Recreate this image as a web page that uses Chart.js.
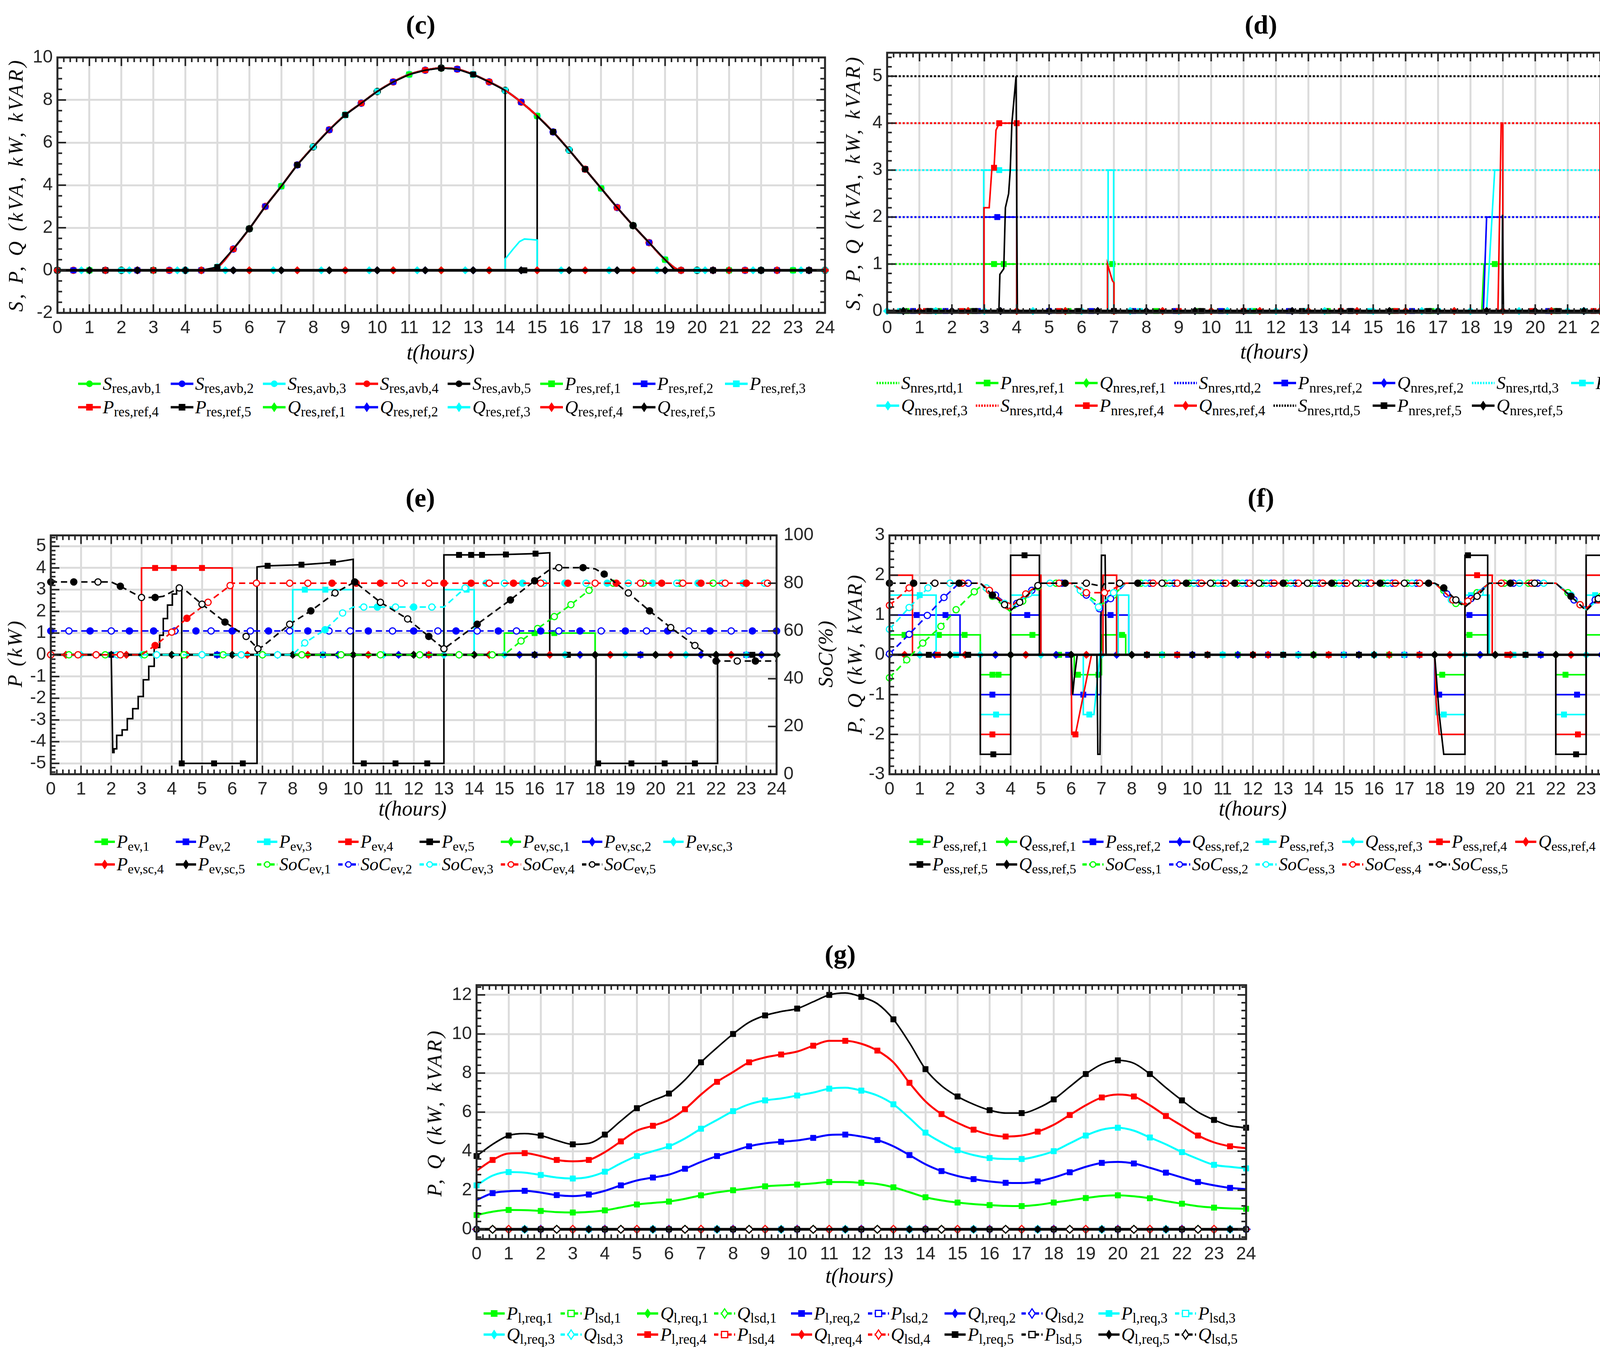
<!DOCTYPE html>
<html>
<head>
<meta charset="utf-8">
<script src="https://cdn.jsdelivr.net/npm/chart.js@4.4.1/dist/chart.umd.min.js"></script>
<style>
html,body{margin:0;padding:0;background:#ffffff;}
body{width:4303px;height:3456px;position:relative;overflow:hidden;}
canvas{position:absolute;}
.t{position:absolute;white-space:nowrap;color:#000;line-height:1;}
.ttl{font-family:'Liberation Serif',serif;font-weight:bold;font-size:68px;transform:translate(-50%,-50%);}
.xl{font-family:'Liberation Serif',serif;font-style:italic;font-size:54px;transform:translate(-50%,-50%);}
.yl{font-family:'Liberation Serif',serif;font-style:italic;font-size:52px;transform:translate(-50%,-50%) rotate(-90deg);}
.li{position:absolute;display:flex;align-items:center;white-space:nowrap;transform:translateY(-50%);font-family:'Liberation Serif',serif;line-height:1;color:#000;}
.li svg{flex:none;margin-right:4px;}
.li i{font-style:italic;}
.li sub{font-style:normal;vertical-align:baseline;position:relative;top:0.24em;}
</style>
</head>
<body>
<script>
// ================= DATA =================
const hours05 = [0,0.5,1,1.5,2,2.5,3,3.5,4,4.5,5,5.5,6,6.5,7,7.5,8,8.5,9,9.5,10,10.5,11,11.5,12,12.5,13,13.5,14,14.5,15,15.5,16,16.5,17,17.5,18,18.5,19,19.5,20,20.5,21,21.5,22,22.5,23,23.5,24];
const zeroLevel = [0,0,0,0,0,0,0,0,0,0,0,0,0,0,0,0,0,0,0,0,0,0,0,0,0,0,0,0,0,0,0,0,0,0,0,0,0,0,0,0,0,0,0,0,0,0,0,0,0];
const xTickValues = [0,1,2,3,4,5,6,7,8,9,10,11,12,13,14,15,16,17,18,19,20,21,22,23,24];

// ---- (c) RES ----
const yTicksC = [-2,0,2,4,6,8,10];
const solarAvb = [0,0,0,0,0,0,0,0,0,0, 0.15,1.0,1.95,3.0,3.95,4.95,5.8,6.6,7.3,7.85, 8.4,8.85,9.2,9.4,9.5,9.45,9.2,8.85,8.45,7.9, 7.25,6.5,5.65,4.75,3.85,2.95,2.1,1.3,0.5, 0, 0,0,0,0,0,0,0,0,0];
const pResRef5 = [[0,0,1],[1.5,0,1],[3,0,1],[4.5,0],[5,0.15,1],[5.5,1.0],[6,1.95,1],[6.5,3.0],[7,3.95],[7.5,4.95,1],[8,5.8],[8.5,6.6],[9,7.3,1],[9.5,7.85],[10,8.4],[10.5,8.85],[11,9.2],[11.5,9.4],[12,9.5,1],[12.5,9.45],[13,9.2,1],[13.5,8.85],[14,8.45],[14,0],[14.6,0,1],[15,0],[15,7.25],[15.5,6.5,1],[16,5.65],[16.5,4.75,1],[17,3.85],[17.5,2.95],[18,2.1,1],[18.5,1.3],[19,0.5],[19.3,0],[20.5,0,1],[22,0,1],[23.5,0,1],[24,0]];
const qResRef3 = [[0,0],[0.75,0,1],[2.25,0,1],[3.75,0,1],[5.25,0,1],[6.75,0,1],[8.25,0,1],[9.75,0,1],[11.25,0,1],[12.75,0,1],[14.0,0],[14.0,0.53],[14.25,1.0],[14.45,1.35],[14.6,1.47],[14.8,1.45],[15.0,1.42],[15.0,0],[15.75,0,1],[17.25,0,1],[18.75,0,1],[20.25,0,1],[21.75,0,1],[23.25,0,1],[24,0]];

// ---- (d) non-RES ----
const yTicksD = [0,1,2,3,4,5];
const sNresRtd = [1,2,3,4,5];
const pNresRef1 = [[0,0],[0.6,0,1],[1.6,0,1],[2.6,0,1],[2.98,0],[2.98,1],[3.3,1,1],[3.6,1,1],[4.0,1],[4.0,0],[5.6,0,1],[6.8,0],[6.8,1],[6.95,1,1],[7.0,1],[7.0,0],[8.3,0,1],[9.6,0,1],[11.3,0,1],[13.6,0,1],[15.6,0,1],[16.8,0,1],[18.35,0],[18.42,1],[18.75,1,1],[19.0,1],[19.0,0],[20.6,0,1],[22.0,0],[22.0,1],[22.3,1,1],[22.8,1,1],[23.0,1],[23.0,0],[24,0]];
const pNresRef2 = [[0,0],[0.8,0,1],[1.8,0,1],[2.8,0,1],[2.98,0],[2.98,2],[3.4,2,1],[4.0,2],[4.0,0],[5.0,0,1],[6.3,0,1],[7.6,0,1],[8.9,0,1],[10.3,0,1],[12.4,0,1],[14.3,0,1],[16.2,0,1],[18.4,0],[18.5,2],[19.0,2],[19.0,0],[20.4,0,1],[22.0,0],[22.0,2],[22.14,2,1],[22.76,2,1],[23.0,2],[23.0,0],[24,0]];
const pNresRef3 = [[0,0],[0.4,0,1],[1.4,0,1],[2.98,0],[2.98,3],[3.46,3,1],[4.0,3],[4.0,0],[6.82,0],[6.82,3],[6.99,3],[6.99,0],[7.8,0,1],[11.2,0,1],[12.9,0,1],[14.9,0,1],[17.0,0,1],[18.5,0],[18.75,3],[19.0,3],[19.0,0],[21.5,0,1],[22.0,0],[22.0,3],[22.25,3,1],[23.0,3,1],[23.0,0],[24,0]];
const pNresRef4 = [[0,0],[1.2,0,1],[2.3,0,1],[2.99,0],[2.99,2.2],[3.15,2.2],[3.23,3.0],[3.3,3.05,1],[3.36,3.85],[3.46,4.0,1],[4.0,4.0,1],[4.0,0],[5.3,0,1],[6.8,0],[6.8,1.0],[6.95,0.65],[7.0,0.6],[7.0,0],[9.0,0,1],[11.0,0,1],[14.0,0,1],[15.7,0,1],[18.85,0],[18.95,4],[19.0,4],[19.0,0],[19.9,0,1],[21.8,0,1],[22.0,0],[22.0,4],[22.75,4,1],[22.9,3.7],[23.0,3.25],[23.0,0],[24,0]];
const pNresRef5 = [[0,0],[1.3,0,1],[2.7,0,1],[3.45,0],[3.48,0.78],[3.6,0.9],[3.65,2.2],[3.75,2.5],[3.8,3.0],[3.85,4.0],[3.98,5.0],[4.02,0],[5.9,0,1],[7.0,0,1],[9.7,0,1],[12.8,0,1],[14.3,0,1],[16.7,0,1],[18.98,0],[18.99,2.05],[19.02,0],[20.7,0,1],[22.02,0],[22.02,5],[22.1,5,1],[22.3,5],[22.38,3.8],[22.5,2.4],[22.85,0],[23.5,0,1],[24,0]];

// ---- (e) EV ----
const yTicksE = [-5,-4,-3,-2,-1,0,1,2,3,4,5];
const yTicksSoC = [0,20,40,60,80,100];
const pEv1 = [[0,0],[15.0,0],[15.0,1.0],[16.0,1.0,1],[16.65,1.0,1],[18.0,1.0],[18.0,0],[24,0]];
const pEv2 = [[0,0],[2.0,0,1],[5.5,0,1],[9.0,0,1],[12.5,0,1],[16.0,0,1],[19.5,0,1],[23.0,0,1],[24,0]];
const pEv3 = [[0,0],[8.0,0],[8.0,3.0],[8.4,3.0,1],[9.08,3.0,1],[10.0,3.0],[10.0,0],[13.0,0],[13.0,3.0],[13.75,3.0,1],[14.0,3.0],[14.0,0],[24,0]];
const pEv4 = [[0,0],[3.0,0],[3.0,4.0],[3.45,4.0,1],[4.07,4.0,1],[5.0,4.0,1],[6.0,4.0],[6.0,0],[24,0]];
const pEv5 = [[0,0],[2.0,0],[2.05,-4.5],[2.09,-4.5],[2.09,-4.33],[2.18,-4.33],[2.18,-3.71],[2.36,-3.71],[2.36,-3.46],[2.53,-3.46],[2.53,-2.94],[2.71,-2.94],[2.71,-2.48],[2.89,-2.48],[2.89,-1.92],[3.06,-1.92],[3.06,-1.15],[3.24,-1.15],[3.24,-0.53],[3.42,-0.53],[3.42,0.34],[3.6,0.34],[3.6,0.9],[3.72,0.9],[3.72,1.67],[3.86,1.67],[3.86,2.29],[4.02,2.29],[4.02,2.8],[4.16,2.8],[4.16,3.1],[4.33,3.1],[4.33,-5.0,1],[5.4,-5,1],[6.35,-5,1],[6.82,-5],[6.82,4.05],[7.17,4.1,1],[8.29,4.15,1],[9.33,4.25,1],[10.0,4.4],[10.0,-5],[10.35,-5,1],[11.4,-5,1],[12.45,-5,1],[13.0,-5],[13.0,4.6],[13.5,4.6,1],[13.9,4.6,1],[14.26,4.6,1],[15.05,4.62,1],[16.03,4.66,1],[16.5,4.7],[16.5,0],[17.1,0,1],[18.03,0],[18.03,-5],[18.1,-5,1],[19.2,-5,1],[20.3,-5,1],[21.3,-5,1],[22.05,-5],[22.05,0],[23.2,0,1],[24,0]];
const socEv1 = [[0,50],[0.6,50,1],[1.8,50,1],[3.1,50,1],[4.4,50,1],[5.7,50,1],[7.0,50,1],[8.3,50,1],[9.6,50,1],[10.9,50,1],[12.2,50,1],[13.5,50,1],[14.6,50,1],[15.0,50],[15.55,55.8,1],[16.1,61,1],[16.65,66,1],[17.2,71,1],[17.8,77,1],[18.0,80],[18.6,80,1],[19.6,80,1],[20.8,80,1],[21.9,80,1],[23.0,80,1],[24,80]];
const socEv2 = [[0,60,2],[0.6,60,1],[1.3,60,2],[2.0,60,1],[2.6,60,2],[3.4,60,2],[4.1,60,1],[4.8,60,2],[5.3,60,1],[6.0,60,2],[6.6,60,1],[7.2,60,2],[7.9,60,1],[8.5,60,2],[9.2,60,1],[9.9,60,1],[10.5,60,2],[11.3,60,1],[12.0,60,2],[12.8,60,1],[13.4,60,2],[14.1,60,1],[14.8,60,2],[15.4,60,1],[16.2,60,2],[16.8,60,1],[17.5,60,2],[18.2,60,1],[19.0,60,2],[19.7,60,1],[20.4,60,2],[21.1,60,1],[21.8,60,2],[22.5,60,1],[23.2,60,2],[24,60,2]];
const socEv3 = [[0,50],[0.9,50,1],[2.2,50,1],[3.5,50,1],[5.0,50,1],[6.3,50,1],[7.5,50,1],[8.0,50],[8.4,55,1],[9.07,60.5,2],[9.65,67.5,1],[10.0,70],[10.35,70,1],[10.8,70,2],[11.4,70,1],[12.0,70,2],[12.6,70,1],[13.0,70],[13.7,78,1],[14.0,80],[14.4,80,2],[15.0,80,1],[15.6,80,2],[16.3,80,1],[17.0,80,2],[17.7,80,1],[18.4,80,2],[19.1,80,1],[19.9,80,2],[20.7,80,1],[21.4,80,2],[22.2,80,1],[22.9,80,2],[23.6,80,1],[24,80]];
const socEv4 = [[0,50,1],[0.9,50,1],[1.5,50,1],[2.3,50,1],[3.0,50],[3.45,53.9,2],[4.0,59.5,1],[4.5,65.3,2],[5.2,72,1],[5.93,79,1],[6.0,80],[6.8,80,1],[7.9,80,1],[8.5,80,1],[9.3,80,2],[10.1,80,2],[10.9,80,2],[11.6,80,1],[12.5,80,1],[13.0,80,2],[13.9,80,2],[14.5,80,1],[15.3,80,2],[16.2,80,1],[17.1,80,2],[18.0,80,1],[18.7,80,2],[19.5,80,1],[20.2,80,2],[20.9,80,1],[21.5,80,2],[22.3,80,1],[23.0,80,2],[23.7,80,1],[24,80]];
const socEv5 = [[0,80.5,2],[0.76,80.5,2],[1.56,80.5,1],[2.0,80.5],[2.3,78.7,2],[3.0,74,1],[3.45,74,2],[3.72,74.5],[4.25,78,1],[4.5,76.5],[5.0,71.2,1],[5.76,63.7,2],[6.46,57.7,1],[6.85,52.5,1],[7.0,53.5],[7.9,62.8,1],[8.6,68.4,2],[9.4,75.9,1],[10.05,80.5,2],[10.9,72,1],[11.8,65,1],[12.5,57.7,2],[13.0,52.5,1],[14.1,62.8,2],[15.2,73,2],[16.0,81,2],[16.5,85.7],[16.8,86.5,1],[17.6,86.5,2],[18.0,86],[18.3,83.8,2],[19.1,75.9,1],[19.8,68.4,2],[20.5,61.4,1],[21.3,53.9,1],[22.0,47.4,2],[22.7,47.4,1],[23.3,47.4,2],[24,47.4]];

// ---- (f) ESS ----
const yTicksF = [-3,-2,-1,0,1,2,3];
const pEssRef1 = [[0,0.5],[0.5,0.5,1],[1.63,0.5,1],[2.48,0.5,1],[3.0,0.5],[3.0,-0.5],[3.4,-0.5,1],[3.6,-0.5,1],[4.0,-0.5],[4.0,0.5],[4.72,0.5,1],[5.0,0.5],[5.0,0],[5.6,0,1],[6.1,0],[6.1,-0.5],[6.22,-0.5,1],[6.9,-0.5,1],[7.0,-0.5],[7.0,0.5],[7.68,0.5,1],[7.8,0.5],[7.8,0],[9.0,0,1],[11.5,0,1],[14.0,0,1],[16.5,0,1],[18.0,0],[18.0,-0.5],[18.25,-0.5,1],[19.0,-0.5],[19.0,0.5],[19.15,0.5,1],[19.8,0.5],[19.8,0],[21.0,0,1],[22.0,0],[22.0,-0.5],[22.32,-0.5,1],[23.0,-0.5],[23.0,0.5],[23.82,0.5,1],[24,0.5]];
const pEssRef2 = [[0,1],[0.9,1,1],[1.85,1,1],[2.33,1],[2.33,0],[3.0,0],[3.0,-1],[3.4,-1,1],[4.0,-1],[4.0,1],[4.55,1,1],[5.0,1],[5.0,0],[5.9,0,1],[6.0,0],[6.0,-1],[6.4,-1,1],[6.97,-1],[6.97,1],[7.3,1,1],[7.9,1],[7.9,0],[10.0,0,1],[12.5,0,1],[15.0,0,1],[17.0,0,1],[18.0,0],[18.0,-1],[18.15,-1,1],[19.0,-1],[19.0,1],[19.15,1,1],[19.8,1],[19.8,0],[21.5,0,1],[22.0,0],[22.0,-1],[22.7,-1,1],[23.0,-1],[23.0,1],[23.75,1,1],[24,1]];
const pEssRef3 = [[0,1.5],[1.0,1.5,1],[1.54,1.5],[1.54,0],[2.2,0,1],[3.0,0],[3.0,-1.5],[3.52,-1.5,1],[4.0,-1.5],[4.0,1.5],[4.5,1.5,1],[5.0,1.5],[5.0,0],[6.4,0],[6.4,-1.5],[6.6,-1.5,1],[6.75,-1.5],[6.95,0],[7.55,0],[7.55,1.5],[7.9,1.5],[7.9,0],[8.5,0,1],[11.0,0,1],[13.5,0,1],[16.0,0,1],[18.0,0],[18.05,-1.5],[18.3,-1.5,1],[19.0,-1.5],[19.0,1.5],[19.2,1.5,1],[19.8,1.5],[19.8,0],[20.6,0,1],[22.0,0],[22.0,-1.5],[22.27,-1.5,1],[23.0,-1.5],[23.0,1.5],[23.3,1.5,1],[24,1.5]];
const pEssRef4 = [[0,2],[0.76,2],[0.76,0],[1.6,0,1],[3.0,0],[3.0,-2],[3.4,-2,1],[4.0,-2],[4.0,2],[5.0,2],[5.0,0],[6.0,0],[6.02,-2],[6.14,-2,1],[6.67,0],[7.05,0],[7.05,2],[7.5,2],[7.5,0],[9.5,0,1],[12.0,0,1],[14.5,0,1],[17.5,0,1],[18.0,0],[18.05,-1.2],[18.15,-2],[19.0,-2],[19.0,2],[19.4,2,1],[19.9,2],[19.9,0],[20.4,0,1],[22.0,0],[22.0,-2],[22.73,-2,1],[23.0,-2],[23.0,2],[23.77,2,1],[24,2]];
const pEssRef5 = [[0,0],[1.3,0,1],[2.6,0,1],[3.0,0],[3.0,-2.5],[3.43,-2.5,1],[4.0,-2.5],[4.0,2.5],[4.46,2.5,1],[4.95,2.5],[4.95,0],[6.0,0],[6.05,-1.0],[6.1,-0.6],[6.2,0],[6.85,0],[6.88,-2.5],[6.95,-2.5],[7.0,2.5],[7.12,2.5],[7.15,0],[8.5,0,1],[10.5,0,1],[13.0,0,1],[15.5,0,1],[18.0,0],[18.15,-1.5],[18.3,-2.5],[19.0,-2.5],[19.0,2.5],[19.1,2.5,1],[19.75,2.5],[19.75,0],[21.0,0,1],[22.0,0],[22.0,-2.5],[22.67,-2.5,1],[23.0,-2.5],[23.0,2.5],[23.82,2.5,1],[24,2.5]];
const socEss1 = [[0,40.4,1],[0.57,47.9,1],[1.1,54.9,1],[1.7,61.9,1],[2.2,68.9,1],[2.8,76.4,1],[3.0,78.5],[3.4,74.5,1],[4.0,68],[4.4,72.5,1],[4.9,78.5,1],[5.0,80],[5.5,80,1],[6.0,80],[6.4,76,1],[7.0,71],[7.4,75,1],[7.8,80],[8.3,80,1],[9.1,80,1],[9.9,80,1],[10.7,80,1],[11.5,80,1],[12.3,80,1],[13.1,80,1],[13.9,80,1],[14.7,80,1],[15.5,80,1],[16.3,80,1],[17.1,80,1],[18.0,80],[18.3,77,1],[18.7,71.5,1],[19.0,71],[19.4,76,1],[19.8,80],[20.3,80,1],[21.1,80,1],[22.0,80],[22.4,76,1],[22.8,71,1],[23.0,69],[23.5,74.5,1],[24,80]];
const socEss2 = [[0,50.4,1],[0.65,58.6,1],[1.25,66.5,1],[1.8,74,1],[2.3,80],[2.6,80,1],[3.0,80],[3.5,75,1],[4.0,70],[4.2,71.5,1],[4.7,77,1],[5.0,80],[5.7,80,1],[6.0,80],[6.5,75,1],[6.93,69.3,1],[7.3,73.5,1],[7.8,80],[8.6,80,1],[9.4,80,1],[10.2,80,1],[11.0,80,1],[11.8,80,1],[12.6,80,1],[13.4,80,1],[14.2,80,1],[15.0,80,1],[15.8,80,1],[16.6,80,1],[17.4,80,1],[18.0,80],[18.4,75.5,1],[19.0,71],[19.2,73.5,1],[19.8,80],[20.6,80,1],[21.4,80,1],[22.0,80],[22.6,73,1],[23.0,69.5],[23.3,73,1],[23.8,78.5,1],[24,80]];
const socEss3 = [[0,60.7,1],[0.65,69.8,1],[1.27,78,1],[1.5,80],[2.0,80,1],[3.0,80],[3.2,78,1],[3.8,71.5,1],[4.0,69.5],[4.6,75.5,1],[5.0,80],[5.3,80,1],[6.0,80],[6.3,77,1],[6.9,70,1],[7.4,76,1],[7.8,80],[8.45,80,1],[9.25,80,1],[10.05,80,1],[10.85,80,1],[11.65,80,1],[12.45,80,1],[13.25,80,1],[14.05,80,1],[14.85,80,1],[15.65,80,1],[16.45,80,1],[17.25,80,1],[18.0,80],[18.55,73,1],[19.0,71.5],[19.5,76,1],[19.8,80],[20.8,80,1],[21.6,80,1],[22.0,80],[22.5,75,1],[23.0,69],[23.6,75,1],[24,80]];
const socEss4 = [[0,70.7,1],[0.65,78,1],[0.75,80],[1.5,80,1],[2.4,80,1],[3.0,80],[3.3,77,1],[3.9,70.5,1],[4.0,70],[4.5,75.5,1],[5.0,80],[5.6,80,1],[6.0,80],[6.5,76,1],[7.1,76,1],[7.8,80],[8.7,80,1],[9.5,80,1],[10.3,80,1],[11.1,80,1],[11.9,80,1],[12.7,80,1],[13.5,80,1],[14.3,80,1],[15.1,80,1],[15.9,80,1],[16.7,80,1],[17.5,80,1],[18.0,80],[18.6,73,1],[19.0,71],[19.1,72.5,1],[19.8,80],[20.2,80,1],[21.2,80,1],[22.0,80],[22.8,71,1],[23.0,69.5],[23.4,73,1],[24,80]];
const socEss5 = [[0,80,2],[0.8,80,2],[1.5,80,1],[2.3,80,2],[3.0,80],[3.4,75,2],[3.8,71,1],[4.0,68.5],[4.3,72,1],[4.9,79,1],[5.0,80],[5.8,80,2],[6.0,80],[6.5,80,1],[6.9,79],[7.0,78],[7.1,80],[7.6,80,1],[8.2,80,2],[9.0,80,1],[9.8,80,2],[10.6,80,1],[11.4,80,2],[12.2,80,1],[13.0,80,2],[13.8,80,1],[14.6,80,2],[15.4,80,1],[16.2,80,2],[17.0,80,1],[17.8,80,2],[18.0,80],[18.3,78,2],[18.7,73,1],[19.0,70],[19.4,74.5,1],[19.8,80],[20.5,80,2],[21.3,80,1],[22.0,80],[22.5,74.5,2],[23.0,68.5],[23.4,73.5,1],[24,80]];

// ---- (g) loads ----
const yTicksG = [0,2,4,6,8,10,12];
const pLreq1 = [0.73,0.9,0.99,0.98,0.94,0.88,0.86,0.89,0.97,1.12, 1.27,1.35,1.42,1.56,1.74,1.89,2.0,2.1,2.2,2.25, 2.29,2.35,2.42,2.42,2.38,2.32,2.15,1.9,1.64,1.48, 1.37,1.29,1.24,1.2,1.19,1.25,1.37,1.48,1.6,1.7, 1.74,1.69,1.59,1.44,1.31,1.18,1.11,1.07,1.05];
const pLreq2 = [1.5,1.85,1.95,1.97,1.88,1.75,1.7,1.78,1.97,2.25, 2.5,2.65,2.8,3.1,3.45,3.75,4.0,4.25,4.4,4.48, 4.55,4.68,4.83,4.85,4.75,4.57,4.25,3.8,3.33,2.98, 2.73,2.57,2.45,2.38,2.37,2.45,2.65,2.92,3.2,3.4, 3.45,3.37,3.15,2.9,2.65,2.42,2.25,2.12,2.06];
const pLreq3 = [2.25,2.75,2.93,2.9,2.78,2.65,2.6,2.68,2.95,3.38, 3.75,4.0,4.25,4.65,5.15,5.6,6.05,6.4,6.6,6.7, 6.85,7.0,7.2,7.25,7.1,6.85,6.4,5.7,4.95,4.45, 4.05,3.8,3.65,3.6,3.6,3.75,4.0,4.4,4.8,5.1, 5.2,5.05,4.7,4.35,3.95,3.6,3.3,3.2,3.12];
const pLreq4 = [3.0,3.55,3.88,3.9,3.75,3.55,3.48,3.55,3.95,4.5, 5.05,5.3,5.6,6.15,6.9,7.55,8.05,8.55,8.8,8.95, 9.1,9.4,9.65,9.65,9.5,9.15,8.55,7.5,6.55,5.9, 5.45,5.1,4.85,4.75,4.8,5.0,5.35,5.85,6.35,6.75, 6.9,6.8,6.35,5.8,5.3,4.8,4.45,4.25,4.15];
const pLreq5 = [3.75,4.35,4.8,4.9,4.8,4.55,4.35,4.4,4.85,5.55, 6.2,6.6,6.95,7.65,8.55,9.3,10.0,10.6,10.95,11.15, 11.3,11.65,12.0,12.1,11.9,11.55,10.75,9.55,8.2,7.35, 6.8,6.4,6.1,5.95,5.95,6.2,6.65,7.3,7.95,8.45, 8.65,8.5,7.95,7.25,6.6,6.0,5.6,5.3,5.2];

// ================= STYLE / BUILD =================
const COL = ['#00ff00','#0000ff','#00ffff','#ff0000','#000000'];
const GRID = '#dcdcdc';
const DASH = {solid: [], dash: [16, 10], dot: [5, 5]};
function grid(vals) { return hours05.map((x, i) => [x, vals[i]]); }
function spec(main, sub, color, data, o) {
  return Object.assign({main, sub, color, data, marker: 'rect', r: 10, width: 4, dash: 'solid', open: false, axis: 'y', every: 0, off: 0, smooth: false}, o || {});
}
function toDataset(s, idx, n) {
  const data = s.data.map(p => ({x: p[0], y: p[1], m: p[2] || 0}));
  let radius;
  if (s.marker === 'none') radius = 0;
  else if (s.every) radius = ctx => (ctx.dataIndex !== undefined && (ctx.dataIndex + s.off) % s.every === 0) ? s.r : 0;
  else radius = ctx => (ctx.raw && ctx.raw.m) ? s.r : 0;
  const bg = s.open ? (ctx => (ctx.raw && ctx.raw.m === 2) ? s.color : '#ffffff') : s.color;
  return {
    label: s.main + ' ' + s.sub, data, yAxisID: s.axis,
    borderColor: s.color, backgroundColor: s.color, borderWidth: s.width,
    borderDash: DASH[s.dash], borderCapStyle: 'butt', borderJoinStyle: 'miter',
    pointStyle: s.marker === 'none' ? 'circle' : s.marker,
    pointRadius: radius, pointHoverRadius: 0, pointHitRadius: 0,
    pointBorderColor: s.color, pointBackgroundColor: bg,
    pointBorderWidth: s.open ? 3 : 1,
    cubicInterpolationMode: s.smooth ? 'monotone' : 'default', tension: 0,
    fill: false, order: n - idx, clip: 16, spanGaps: true
  };
}

const frameTicks = {
  id: 'frameTicks',
  afterDatasetsDraw(chart, args, o) {
    const ctx = chart.ctx, a = chart.chartArea;
    const sx = chart.scales.x, sy = chart.scales.y, s2 = chart.scales.y2;
    ctx.save();
    ctx.strokeStyle = '#262626';
    ctx.lineWidth = 4;
    ctx.beginPath();
    const seg = (x1, y1, x2, y2) => { ctx.moveTo(x1, y1); ctx.lineTo(x2, y2); };
    for (let k = Math.ceil(sx.min / o.xMinor - 1e-6); k * o.xMinor <= sx.max + 1e-6; k++) {
      const v = k * o.xMinor, p = sx.getPixelForValue(v);
      const L = Math.abs(v - Math.round(v)) < 1e-6 ? 22 : 12;
      seg(p, a.top, p, a.top + L); seg(p, a.bottom, p, a.bottom - L);
    }
    for (let k = Math.ceil(sy.min / o.yMinor - 1e-6); k * o.yMinor <= sy.max + 1e-6; k++) {
      const v = k * o.yMinor, p = sy.getPixelForValue(v);
      const L = o.yMajor.some(t => Math.abs(t - v) < 1e-6) ? 22 : 12;
      seg(a.left, p, a.left + L, p);
      if (!s2) seg(a.right, p, a.right - L, p);
    }
    if (s2) for (const v of o.y2Major) { const p = s2.getPixelForValue(v); seg(a.right, p, a.right - 22, p); }
    ctx.stroke();
    ctx.lineWidth = 5;
    ctx.strokeRect(a.left, a.top, a.right - a.left, a.bottom - a.top);
    ctx.restore();
  }
};

const TICKFONT = {family: "'Liberation Sans', Arial, sans-serif", size: 46};
function makePanel(p) {
  const padL = 120, padT = 40, padR = p.y2 ? 150 : 45, padB = 95;
  const W = p.rect.r - p.rect.l, H = p.rect.b - p.rect.t;
  const cv = document.createElement('canvas');
  cv.width = W + padL + padR; cv.height = H + padT + padB;
  cv.style.left = (p.rect.l - padL) + 'px'; cv.style.top = (p.rect.t - padT) + 'px';
  cv.style.width = cv.width + 'px'; cv.style.height = cv.height + 'px';
  document.body.appendChild(cv);
  const n = p.series.length;
  const datasets = p.series.map((s, i) => toDataset(s, i, n));
  const scales = {
    x: {type: 'linear', min: 0, max: 24,
      afterBuildTicks: s => { s.ticks = xTickValues.map(v => ({value: v})); },
      afterFit: s => { s.height = padB; },
      ticks: {font: TICKFONT, color: '#262626', padding: 12, autoSkip: false, maxRotation: 0, minRotation: 0, callback: v => String(v)},
      grid: {color: GRID, lineWidth: 5, drawTicks: false}, border: {display: false}},
    y: {type: 'linear', position: 'left', min: p.yMin, max: p.yMax,
      afterBuildTicks: s => { s.ticks = p.yTicks.map(v => ({value: v})); },
      afterFit: s => { s.width = padL; },
      ticks: {font: TICKFONT, color: '#262626', padding: 12, autoSkip: false, callback: v => String(v)},
      grid: {color: GRID, lineWidth: 5, drawTicks: false}, border: {display: false}}
  };
  if (p.y2) {
    scales.y2 = {type: 'linear', position: 'right', min: 0, max: 100,
      afterBuildTicks: s => { s.ticks = yTicksSoC.map(v => ({value: v})); },
      afterFit: s => { s.width = padR; },
      ticks: {font: TICKFONT, color: '#262626', padding: 18, autoSkip: false, callback: v => String(v)},
      grid: {display: false, drawTicks: false}, border: {display: false}};
  }
  new Chart(cv, {
    type: 'line',
    data: {datasets},
    options: {
      responsive: false, animation: false, devicePixelRatio: 1, events: [],
      layout: {padding: {left: 0, top: padT, right: p.y2 ? 0 : padR, bottom: 0}, autoPadding: false},
      plugins: {legend: {display: false}, tooltip: {enabled: false},
        frameTicks: {xMinor: 0.2, yMinor: p.yMinor, yMajor: p.yTicks, y2Major: [20, 40, 60, 80]}},
      scales
    },
    plugins: [frameTicks]
  });
}

// ---- series lists ----
const seriesC = [];
for (let i = 0; i < 5; i++) seriesC.push(spec('S', 'res,avb,' + (i + 1), COL[i], grid(solarAvb), {marker: 'circle', r: 9, every: 4, off: i % 4, smooth: true, width: i === 4 ? 4 : 5}));
for (let i = 0; i < 5; i++) {
  if (i < 4) seriesC.push(spec('P', 'res,ref,' + (i + 1), COL[i], grid(solarAvb), {every: 4, off: (i + 2) % 4, smooth: true, width: 5}));
  else seriesC.push(spec('P', 'res,ref,5', COL[4], pResRef5, {width: 4}));
}
for (let i = 0; i < 5; i++) {
  if (i === 2) seriesC.push(spec('Q', 'res,ref,3', COL[2], qResRef3, {marker: 'rectRot'}));
  else seriesC.push(spec('Q', 'res,ref,' + (i + 1), COL[i], grid(zeroLevel), {marker: 'rectRot', every: 3, off: i % 3, width: i === 4 ? 7 : 5}));
}

const pNres = [pNresRef1, pNresRef2, pNresRef3, pNresRef4, pNresRef5];
const seriesD = [];
for (let i = 0; i < 5; i++) {
  seriesD.push(spec('S', 'nres,rtd,' + (i + 1), COL[i], [[0, sNresRtd[i]], [24, sNresRtd[i]]], {marker: 'none', dash: 'dot', width: 5}));
  seriesD.push(spec('P', 'nres,ref,' + (i + 1), COL[i], pNres[i], {width: 4}));
  seriesD.push(spec('Q', 'nres,ref,' + (i + 1), COL[i], grid(zeroLevel), {marker: 'rectRot', every: 3, off: (i + 1) % 3, width: i === 4 ? 7 : 5}));
}

const pEv = [pEv1, pEv2, pEv3, pEv4, pEv5];
const socEv = [socEv1, socEv2, socEv3, socEv4, socEv5];
const seriesE = [];
for (let i = 0; i < 5; i++) seriesE.push(spec('P', 'ev,' + (i + 1), COL[i], pEv[i], {width: 4}));
for (let i = 0; i < 5; i++) seriesE.push(spec('P', 'ev,sc,' + (i + 1), COL[i], grid(zeroLevel), {marker: 'rectRot', every: 4, off: i % 4, width: i === 4 ? 6 : 5}));
for (let i = 0; i < 5; i++) seriesE.push(spec('SoC', 'ev,' + (i + 1), COL[i], socEv[i], {marker: 'circle', open: true, r: 8, dash: 'dash', width: 4, axis: 'y2'}));

const pEss = [pEssRef1, pEssRef2, pEssRef3, pEssRef4, pEssRef5];
const socEss = [socEss1, socEss2, socEss3, socEss4, socEss5];
const seriesF = [];
for (let i = 0; i < 5; i++) {
  seriesF.push(spec('P', 'ess,ref,' + (i + 1), COL[i], pEss[i], {width: 4}));
  seriesF.push(spec('Q', 'ess,ref,' + (i + 1), COL[i], grid(zeroLevel), {marker: 'rectRot', every: 4, off: i % 4, width: i === 4 ? 6 : 5}));
}
for (let i = 0; i < 5; i++) seriesF.push(spec('SoC', 'ess,' + (i + 1), COL[i], socEss[i], {marker: 'circle', open: true, r: 8, dash: 'dash', width: 4, axis: 'y2'}));

const pLreq = [pLreq1, pLreq2, pLreq3, pLreq4, pLreq5];
const seriesG = [];
for (let i = 0; i < 5; i++) {
  seriesG.push(spec('P', 'l,req,' + (i + 1), COL[i], grid(pLreq[i]), {every: 2, off: i % 2, smooth: true, width: i === 4 ? 4 : 5}));
  seriesG.push(spec('P', 'lsd,' + (i + 1), COL[i], grid(zeroLevel), {dash: 'dash', open: true, r: 8, every: 4, off: i % 4}));
  seriesG.push(spec('Q', 'l,req,' + (i + 1), COL[i], grid(zeroLevel), {marker: 'rectRot', every: 4, off: (i + 1) % 4, width: i === 4 ? 7 : 5}));
  seriesG.push(spec('Q', 'lsd,' + (i + 1), COL[i], grid(zeroLevel), {marker: 'rectRot', dash: 'dash', open: true, every: 4, off: (i + 3) % 4}));
}

// ---- panels ----
makePanel({rect: {l: 147, t: 147, r: 2112, b: 801}, yMin: -2, yMax: 10, yTicks: yTicksC, yMinor: 0.5, series: seriesC});
makePanel({rect: {l: 2271, t: 135, r: 4262, b: 801}, yMin: -0.04, yMax: 5.5, yTicks: yTicksD, yMinor: 0.2, series: seriesD});
makePanel({rect: {l: 130, t: 1365, r: 1988, b: 1982}, yMin: -5.5, yMax: 5.5, yTicks: yTicksE, yMinor: 0.2, y2: true, series: seriesE});
makePanel({rect: {l: 2277, t: 1365, r: 4138, b: 1982}, yMin: -3, yMax: 3, yTicks: yTicksF, yMinor: 0.2, y2: true, series: seriesF});
makePanel({rect: {l: 1220, t: 2522, r: 3190, b: 3172}, yMin: -0.5, yMax: 12.5, yTicks: yTicksG, yMinor: 0.4, series: seriesG});

// ---- text ----
function addText(cls, html, x, y) {
  const d = document.createElement('div');
  d.className = 't ' + cls; d.innerHTML = html;
  d.style.left = x + 'px'; d.style.top = y + 'px';
  document.body.appendChild(d);
  return d;
}
const titles = [['(c)', 1077, 63], ['(d)', 3228, 63], ['(e)', 1076, 1274], ['(f)', 3228, 1274], ['(g)', 2151, 2443]];
titles.forEach(t => addText('ttl', t[0], t[1], t[2]));
const xLabels = [[1128, 902], [3262, 900], [1056, 2070], [3207, 2070], [2200, 3266]];
xLabels.forEach(t => addText('xl', 't(hours)', t[0], t[1]));
const yLabels = [
  ['S, P, Q (kVA, kW, kVAR)', 41, 473, 650],
  ['S, P, Q (kVA, kW, kVAR)', 2184, 467, 655],
  ['P (kW)', 39, 1672, 175],
  ['SoC(%)', 2114, 1674, 172],
  ['P, Q (kW, kVAR)', 2189, 1673, 411],
  ['SoC(%)', 4254, 1674, 172],
  ['P, Q (kW, kVAR)', 1113, 2848, 430]
];
yLabels.forEach(t => {
  const d = addText('yl', t[0], t[1], t[2]);
  const nat = d.offsetWidth;
  const ls = Math.max(0, (t[3] - nat) / t[0].length);
  d.style.letterSpacing = ls + 'px';
});

// ---- legends ----
function iconSVG(s, w, h) {
  const c = s.color, cy = h / 2, cx = w / 2;
  const dash = s.dash === 'dash' ? 'stroke-dasharray="11 6"' : (s.dash === 'dot' ? 'stroke-dasharray="4 3"' : '');
  const fill = s.open ? '#ffffff' : c;
  let mk = '';
  if (s.marker === 'rect') mk = `<rect x="${cx - 8}" y="${cy - 8}" width="16" height="16" fill="${fill}" stroke="${c}" stroke-width="${s.open ? 3 : 1}"/>`;
  else if (s.marker === 'rectRot') mk = `<polygon points="${cx},${cy - 12} ${cx + 8},${cy} ${cx},${cy + 12} ${cx - 8},${cy}" fill="${fill}" stroke="${c}" stroke-width="${s.open ? 3 : 1}"/>`;
  else if (s.marker === 'circle') mk = `<circle cx="${cx}" cy="${cy}" r="7" fill="${fill}" stroke="${c}" stroke-width="3"/>`;
  return `<svg width="${w}" height="${h}" viewBox="0 0 ${w} ${h}"><line x1="1" y1="${cy}" x2="${w - 1}" y2="${cy}" stroke="${c}" stroke-width="6" ${dash}/>${mk}</svg>`;
}
function makeLegend(series, L) {
  series.forEach((s, i) => {
    const row = Math.floor(i / L.cols), col = i % L.cols;
    const d = document.createElement('div');
    d.className = 'li';
    d.style.left = (L.x0 + col * L.dx) + 'px';
    d.style.top = L.ys[row] + 'px';
    d.innerHTML = iconSVG(s, L.iw, 32) + `<span style="font-size:${L.main}px"><i>${s.main}</i><sub style="font-size:${L.sub}px">${s.sub}</sub></span>`;
    document.body.appendChild(d);
  });
}
makeLegend(seriesC, {x0: 199, dx: 236.6, ys: [982, 1042], cols: 8, main: 47, sub: 35, iw: 60});
makeLegend(seriesD, {x0: 2243, dx: 254, ys: [980, 1038], cols: 8, main: 47, sub: 36, iw: 60});
makeLegend(seriesE, {x0: 241, dx: 208, ys: [2155, 2213], cols: 8, main: 46, sub: 34, iw: 54});
makeLegend(seriesF, {x0: 2327, dx: 221.6, ys: [2155, 2213], cols: 8, main: 46, sub: 34, iw: 56});
makeLegend(seriesG, {x0: 1237, dx: 196.7, ys: [3362, 3416], cols: 10, main: 47, sub: 35, iw: 56});
</script>
</body>
</html>
